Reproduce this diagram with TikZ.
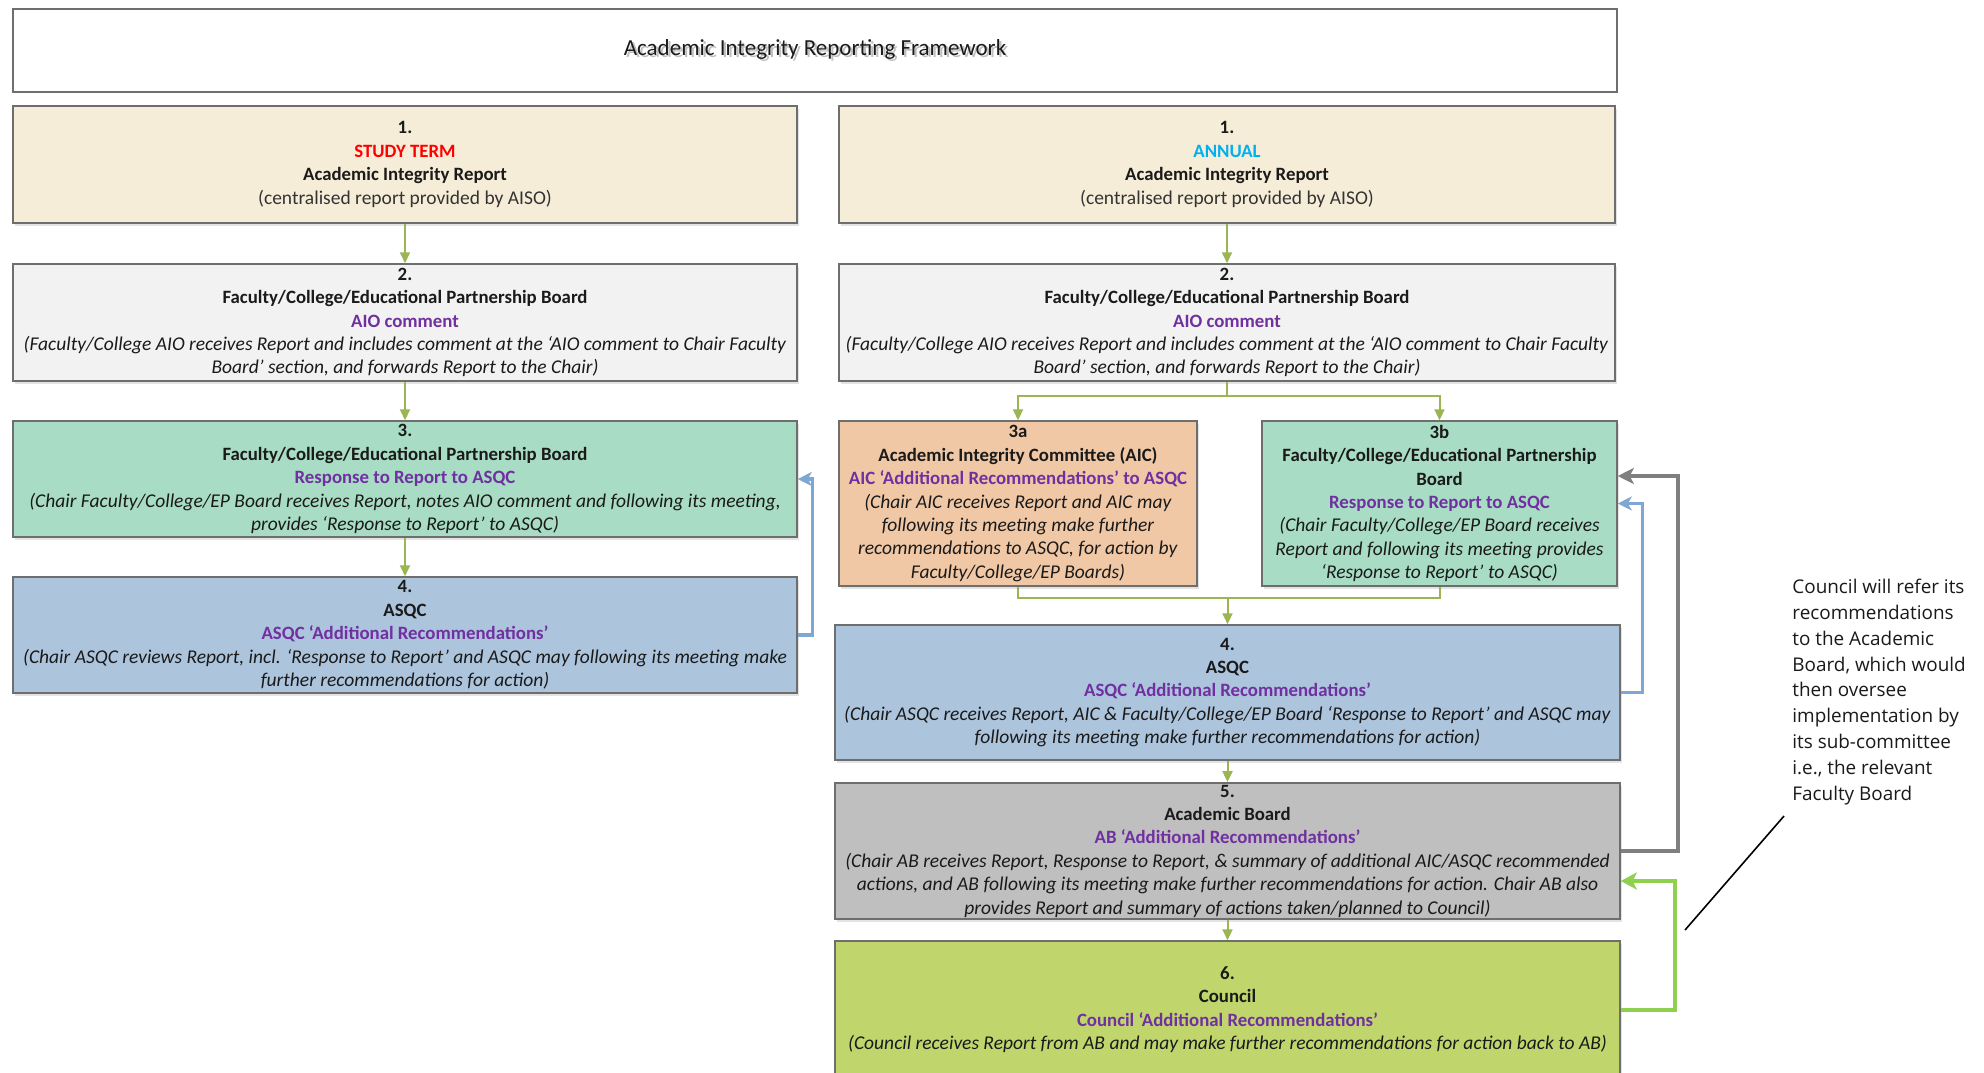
\documentclass[tikz,border=0pt]{standalone}
\usepackage{fontspec}
\setmainfont{Carlito}
\newfontfamily\annofont{Open Sans}
\usetikzlibrary{arrows.meta,shadows}
\definecolor{boxline}{HTML}{6E6E6E}
\definecolor{beige}{HTML}{F6EDD8}
\definecolor{lgray}{HTML}{F2F2F2}
\definecolor{mint}{HTML}{A8DCC5}
\definecolor{bluebox}{HTML}{ADC4DD}
\definecolor{peach}{HTML}{F0C8A6}
\definecolor{graybox}{HTML}{BFBFBF}
\definecolor{lime}{HTML}{C1D56D}
\definecolor{olive}{HTML}{9BB552}
\definecolor{barrowc}{HTML}{7FA7D3}
\definecolor{garrowc}{HTML}{7F7F7F}
\definecolor{lgarrowc}{HTML}{8FD14F}
\definecolor{purp}{HTML}{7030A0}
\definecolor{redt}{HTML}{FF0000}
\definecolor{cyant}{HTML}{00B0F0}
\definecolor{txt}{HTML}{1A1A1A}
\definecolor{subt}{HTML}{333333}
\newcommand\pur[1]{\textcolor{purp}{\textbf{#1}}}
\newcommand\dsc[1]{{\fontsize{9.75}{11.7}\selectfont\textit{#1}}}
\newcommand\rgl[1]{{\fontsize{9.75}{11.7}\selectfont\textcolor{subt}{#1}}}
\tikzset{
  box/.style={draw=boxline, line width=0.75pt, inner sep=1pt, align=center,
    font=\fontsize{9.4}{11.7}\selectfont, text=txt,
    drop shadow={shadow xshift=1.2pt, shadow yshift=-1.6pt, opacity=0.22}},
  titlebox/.style={draw=boxline, line width=0.75pt, fill=white, align=center,
    font=\fontsize{11.5}{13}\selectfont, text=txt},
  oline/.style={draw=olive, line width=1pt},
  oarrow/.style={oline, -{Triangle[length=5.5pt,width=5pt]}},
  barrow/.style={draw=barrowc, line width=1.6pt, -{Stealth[length=7pt,width=7pt,inset=2pt]}},
  grarrow/.style={draw=garrowc, line width=2pt, -{Stealth[length=8pt,width=8pt,inset=2pt]}},
  lgarrow/.style={draw=lgarrowc, line width=2pt, -{Stealth[length=8pt,width=8.5pt,inset=2pt]}},
  anno/.style={align=left, font=\annofont\fontsize{9.45}{12.95}\selectfont, text=txt, inner sep=0pt}
}
\begin{document}
\begin{tikzpicture}[x=0.5pt, y=-0.5pt]
\path[use as bounding box] (0,0) rectangle (1984,1072);
\fill[white] (0,0) rectangle (1984,1072);
\clip (0,0) rectangle (1984,1072);

% title
\node[titlebox, minimum width=802pt, minimum height=41.5pt] (title) at (815,50.5)
  {\makebox[0pt][l]{\raisebox{-1.2pt}{\hspace{1.2pt}\textcolor{black!25}{Academic Integrity Reporting Framework}}}Academic Integrity Reporting Framework};

% left column
\node[box, fill=beige, minimum width=392pt, minimum height=58.5pt] (L1) at (405,164.5)
  {\textbf{1.}\\ \textcolor{redt}{\textbf{STUDY TERM}}\\ \textbf{Academic Integrity Report}\\ \rgl{(centralised report provided by AISO)}};
\node[box, fill=lgray, minimum width=392pt, minimum height=58.5pt] (L2) at (405,322.5)
  {\textbf{2.}\\ \textbf{Faculty/College/Educational Partnership Board}\\ \pur{AIO comment}\\
   \dsc{(Faculty/College AIO receives Report and includes comment at the ‘AIO comment to Chair Faculty}\\
   \dsc{Board’ section, and forwards Report to the Chair)}};
\node[box, fill=mint, minimum width=392pt, minimum height=58pt] (L3) at (405,479)
  {\textbf{3.}\\ \textbf{Faculty/College/Educational Partnership Board}\\ \pur{Response to Report to ASQC}\\
   \dsc{(Chair Faculty/College/EP Board receives Report, notes AIO comment and following its meeting,}\\
   \dsc{provides ‘Response to Report’ to ASQC)}};
\node[box, fill=bluebox, minimum width=392pt, minimum height=58pt] (L4) at (405,635)
  {\textbf{4.}\\ \textbf{ASQC}\\ \pur{ASQC ‘Additional Recommendations’}\\
   \dsc{(Chair ASQC reviews Report, incl. ‘Response to Report’ and ASQC may following its meeting make}\\
   \dsc{further recommendations for action)}};

% right column
\node[box, fill=beige, minimum width=388pt, minimum height=58.5pt] (R1) at (1227,164.5)
  {\textbf{1.}\\ \textcolor{cyant}{\textbf{ANNUAL}}\\ \textbf{Academic Integrity Report}\\ \rgl{(centralised report provided by AISO)}};
\node[box, fill=lgray, minimum width=388pt, minimum height=58.5pt] (R2) at (1227,322.5)
  {\textbf{2.}\\ \textbf{Faculty/College/Educational Partnership Board}\\ \pur{AIO comment}\\
   \dsc{(Faculty/College AIO receives Report and includes comment at the ‘AIO comment to Chair Faculty}\\
   \dsc{Board’ section, and forwards Report to the Chair)}};
\node[box, fill=peach, minimum width=179pt, minimum height=82.5pt] (R3a) at (1018,503.5)
  {\textbf{3a}\\ \textbf{Academic Integrity Committee (AIC)}\\ \pur{AIC ‘Additional Recommendations’ to ASQC}\\
   \dsc{(Chair AIC receives Report and AIC may}\\ \dsc{following its meeting make further}\\
   \dsc{recommendations to ASQC, for action by}\\ \dsc{Faculty/College/EP Boards)}};
\node[box, fill=mint, minimum width=177.5pt, minimum height=82.5pt] (R3b) at (1439.5,503.5)
  {\textbf{3b}\\ \textbf{Faculty/College/Educational Partnership}\\ \textbf{Board}\\ \pur{Response to Report to ASQC}\\
   \dsc{(Chair Faculty/College/EP Board receives}\\ \dsc{Report and following its meeting provides}\\
   \dsc{‘Response to Report’ to ASQC)}};
\node[box, fill=bluebox, minimum width=392.5pt, minimum height=67.5pt] (R4) at (1227.5,692.5)
  {\textbf{4.}\\ \textbf{ASQC}\\ \pur{ASQC ‘Additional Recommendations’}\\
   \dsc{(Chair ASQC receives Report, AIC \& Faculty/College/EP Board ‘Response to Report’ and ASQC may}\\
   \dsc{following its meeting make further recommendations for action)}};
\node[box, fill=graybox, minimum width=392.5pt, minimum height=66pt] (R5) at (1227.5,851)
  {\textbf{5.}\\ \textbf{Academic Board}\\ \pur{AB ‘Additional Recommendations’}\\
   \dsc{(Chair AB receives Report, Response to Report, \& summary of additional AIC/ASQC recommended}\\
   \dsc{actions, and AB following its meeting make further recommendations for action. Chair AB also}\\
   \dsc{provides Report and summary of actions taken/planned to Council)}};
\node[box, fill=lime, minimum width=392.5pt, minimum height=68.5pt] (R6) at (1227.5,1009.5)
  {\textbf{6.}\\ \textbf{Council}\\ \pur{Council ‘Additional Recommendations’}\\
   \dsc{(Council receives Report from AB and may make further recommendations for action back to AB)}};

% olive connectors, left
\draw[oarrow] (L1) -- (L2);
\draw[oarrow] (L2) -- (L3);
\draw[oarrow] (L3) -- (L4);

% olive connectors, right
\draw[oarrow] (R1.south) -- (R2.north);
\coordinate (sp) at (1227,396);
\draw[oarrow] (R2.south) -- (sp) -| (R3a.north);
\draw[oarrow] (sp) -| (R3b.north);
\coordinate (mg) at (1227.5,598);
\draw[oline] (R3a.south) |- (mg);
\draw[oline] (R3b.south) |- (mg);
\draw[oarrow] (mg) -- (R4.north);
\draw[oarrow] (R4) -- (R5);
\draw[oarrow] (R5) -- (R6);

% feedback arrows
\draw[barrow] (L4.east) -- ++(15,0) |- (L3.east);
\draw[barrow] (R4.east) -- ++(22,0) |- (R3b.east);
\draw[grarrow] (R5.east) -- ++(57,0) |- ([yshift=13.75pt]R3b.east);
\draw[lgarrow] (R6.east) -- ++(54,0) |- ([yshift=-15pt]R5.east);

% annotation
\node[anno, anchor=west] (note) at (1792,692)
  {Council will refer its\\ recommendations\\ to the Academic\\ Board, which would\\ then oversee\\ implementation by\\ its sub-committee\\ i.e., the relevant\\ Faculty Board};
\coordinate (c1) at (1685,930);
\coordinate (c2) at (1784,816);
\draw[black, line width=0.8pt] (c1) -- (c2);
\end{tikzpicture}
\end{document}
